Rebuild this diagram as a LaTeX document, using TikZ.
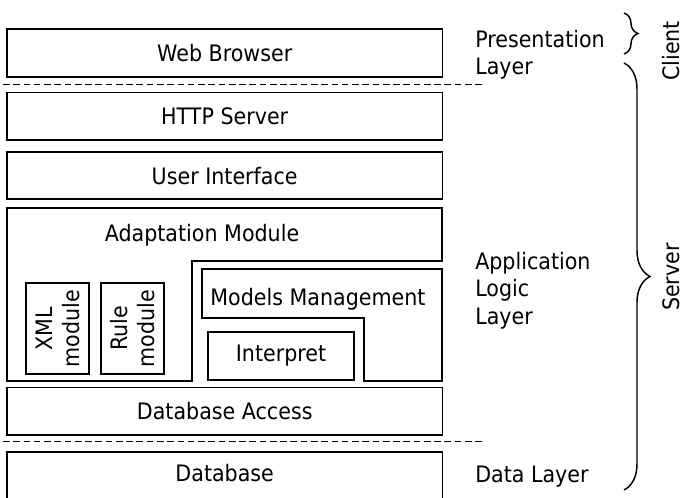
\documentclass[tikz,border=0pt]{standalone}
\usepackage{fontspec}
\setmainfont{DejaVu Sans}[FakeStretch=0.91]
\usepackage{tikz}
\usetikzlibrary{positioning,decorations.pathreplacing}

\tikzset{
    % Base text size
    basefont/.style={
        font=\fontsize{17}{20.4}\selectfont
    },
    % Layer box (full width)
    layerbox/.style={
        draw=black,
        line width=1.3pt,
        minimum width=326.5pt,
        minimum height=35.5pt,
        inner sep=0pt,
        basefont
    },
    % Small rotated module box
    modbox/.style={
        draw=black,
        line width=1.3pt,
        rotate=90,
        minimum width=68.25pt,
        minimum height=47.25pt,
        inner sep=0pt,
        align=center,
        basefont
    },
    % Outline of composed shapes
    shapeline/.style={
        draw=black,
        line width=1.3pt
    },
    % Separator between tiers
    tierline/.style={
        draw=black,
        line width=0.75pt,
        dash pattern=on 5pt off 2.7pt
    },
    % Text on the right
    sidetext/.style={
        align=left,
        inner sep=0pt,
        basefont
    },
    % Curly brace
    bracket/.style={
        draw=black,
        line width=1.1pt,
        decorate,
        decoration={brace}
    }
}

\begin{document}
\begin{tikzpicture}[x=0.75pt, y=-0.75pt]
    \useasboundingbox (0,0) rectangle (683,498);

    % layers
    \node[layerbox] (web) at (224.7,53) {Web Browser};
    \node[layerbox] (http) at (224.7,116.3) {HTTP Server};
    \node[layerbox, minimum height=35.25pt] (ui) at (224.7,175.8) {User Interface};
    \node[layerbox] (dbaccess) at (224.7,411.3) {Database Access};
    \node[layerbox, minimum height=37.3pt, text height=12.9pt, text depth=7pt] (db) at (224.7,477.2) {Database};

    % adaptation module
    \draw[shapeline] (7,207.7) -- (442.3,207.7) -- (442.3,261) -- (192,261)
        -- (192,380.7) -- (7,380.7) -- cycle;
    \node[basefont] (adapt) at (202,235) {Adaptation Module};
    \node[modbox] (xml) at (57.5,328.5) {XML\\module};
    \node[modbox] (rule) at (132.5,328.5) {Rule\\module};

    % models management
    \draw[shapeline] (202,269) -- (442.3,269) -- (442.3,380.7) -- (364,380.7)
        -- (364,318) -- (202,318) -- cycle;
    \node[basefont] (models) at (318,299) {Models Management};
    \node[layerbox, minimum width=109.5pt, minimum height=36pt] (interp) at (281,356) {Interpret};

    % tier separators
    \coordinate (sepA) at (3,85);
    \coordinate (sepB) at (483,85);
    \coordinate (sepC) at (3,441.7);
    \coordinate (sepD) at (483,441.7);
    \draw[tierline] (sepA) -- (sepB);
    \draw[tierline] (sepC) -- (sepD);

    % layer names
    \node[sidetext, anchor=west] (pres) at (475,55) {Presentation\\Layer};
    \node[sidetext, anchor=west] (app) at (475,290.7) {Application\\Logic\\Layer};
    \node[sidetext, anchor=base west] (data) at (475,483) {Data Layer};

    % tiers
    \coordinate (clientTop) at (624,13);
    \coordinate (clientBot) at (624,54);
    \coordinate (serverTop) at (624,63);
    \coordinate (serverBot) at (624,490);
    \draw[bracket, decoration={amplitude=10.5pt}] (clientTop) -- (clientBot);
    \draw[bracket, decoration={amplitude=19.5pt}] (serverTop) -- (serverBot);
    \node[basefont, rotate=90] (client) at (671,51) {Client};
    \node[basefont, rotate=90] (server) at (671,277) {Server};
\end{tikzpicture}
\end{document}
